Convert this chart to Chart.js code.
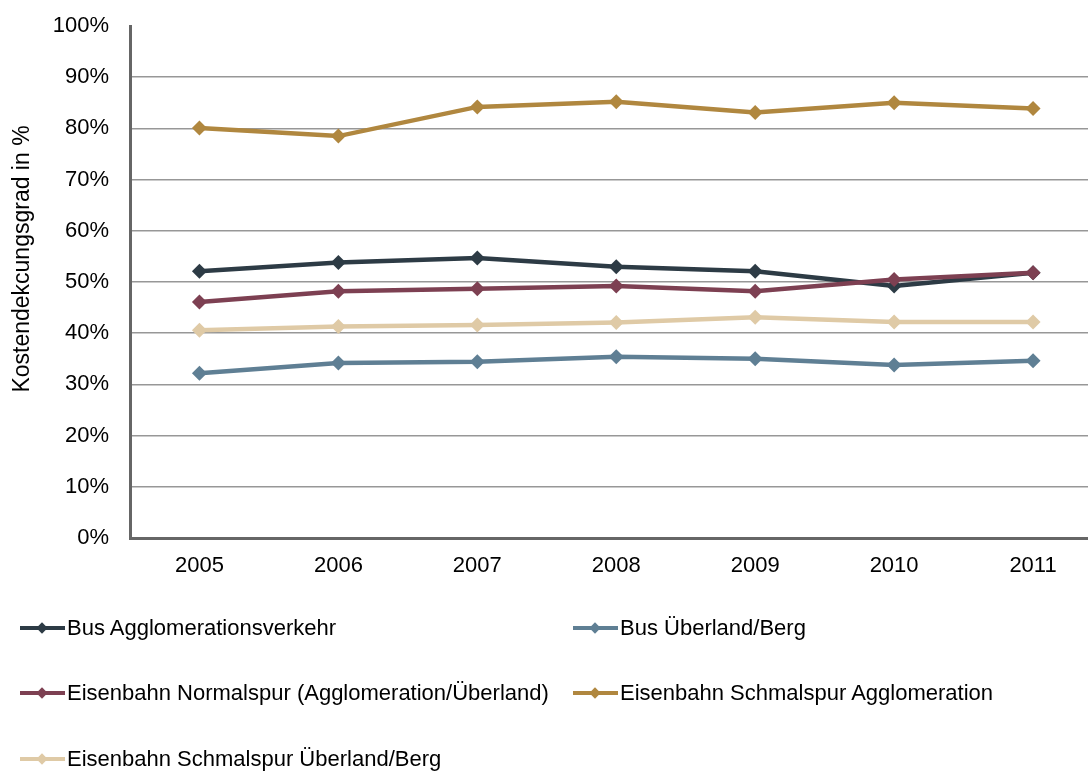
<!DOCTYPE html>
<html>
<head>
<meta charset="utf-8">
<script src="https://cdn.jsdelivr.net/npm/chart.js@4.4.1/dist/chart.umd.min.js"></script>
<style>
  html, body { margin: 0; padding: 0; background: #fff; overflow: hidden; }
  body { width: 1088px; height: 771px; position: relative; font-family: "Liberation Sans", Arial, sans-serif; }
  #wrap { position: absolute; left: 0; top: 0; width: 1110px; height: 600px; }
  #legend { position: absolute; left: 0; top: 0; width: 1088px; height: 771px; pointer-events: none; }
  .item { position: absolute; height: 24px; display: flex; align-items: center; font-size: 22px; color: #000; white-space: nowrap; }
  .sym { position: relative; width: 45px; height: 24px; margin-right: 2px; }
  .sym .ln { position: absolute; left: 0; right: 0; top: 10px; height: 4px; }
  .sym .dm { position: absolute; left: 18px; top: 8px; width: 8px; height: 8px; transform: rotate(45deg); }
</style>
</head>
<body>
<div id="wrap"><canvas id="chart1"></canvas></div>
<div id="legend"></div>
<script>
// Jahre und Kostendeckungsgrade (in %)
var years = ["2005", "2006", "2007", "2008", "2009", "2010", "2011"];
var busAgglo = [52.1, 53.8, 54.7, 53.0, 52.1, 49.2, 51.8];
var busBerg = [32.2, 34.2, 34.4, 35.4, 35.0, 33.8, 34.6];
var bahnNormal = [46.1, 48.2, 48.7, 49.2, 48.2, 50.5, 51.8];
var schmalAgglo = [80.1, 78.5, 84.2, 85.2, 83.1, 85.0, 83.9];
var schmalBerg = [40.6, 41.3, 41.6, 42.1, 43.1, 42.2, 42.2];

var seriesNames = [
    "Bus Agglomerationsverkehr",
    "Bus Überland/Berg",
    "Eisenbahn Normalspur (Agglomeration/Überland)",
    "Eisenbahn Schmalspur Agglomeration",
    "Eisenbahn Schmalspur Überland/Berg"
];
var seriesColors = ["#2d3b45", "#5f7f94", "#7d4052", "#b0873f", "#dfcaa6"];
var seriesData = [busAgglo, busBerg, bahnNormal, schmalAgglo, schmalBerg];
var axisTitle = "Kostendekcungsgrad in %";

var datasets = seriesNames.map(function (name, i) {
    return {
        label: name,
        data: seriesData[i],
        borderColor: seriesColors[i],
        backgroundColor: seriesColors[i],
        borderWidth: 4.5,
        pointStyle: "rectRot",
        pointRadius: 7.5,
        pointHoverRadius: 7.5,
        pointBorderWidth: 0,
        tension: 0,
        order: 5 - i
    };
});

var font = "'Liberation Sans', Arial, sans-serif";

// Achsentitel etwas oberhalb der Mitte, wie im Original
var titlePlugin = {
    id: "yTitle",
    afterDraw: function (chart) {
        var c = chart.ctx;
        c.save();
        c.translate(23, 259);
        c.rotate(-Math.PI / 2);
        c.fillStyle = "#000";
        c.font = "23px " + font;
        c.textAlign = "center";
        c.textBaseline = "middle";
        c.fillText(axisTitle, 0, 0);
        c.restore();
    }
};

var config = {
    type: "line",
    data: { labels: years, datasets: datasets },
    options: {
        responsive: true,
        maintainAspectRatio: false,
        animation: false,
        layout: { padding: { top: 26, left: 0, right: 0, bottom: 0 } },
        plugins: {
            legend: { display: false },
            tooltip: { enabled: false }
        },
        scales: {
            x: {
                offset: true,
                grid: { display: false, drawTicks: false },
                border: { display: true, color: "#666", width: 3 },
                ticks: { color: "#000", padding: 15, font: { family: font, size: 22 } },
                afterFit: function (scale) {
                    scale.height = 62;
                    scale.paddingLeft = 0;
                    scale.paddingRight = 0;
                }
            },
            y: {
                min: 0,
                max: 100,
                grid: {
                    color: function (ctx) { return ctx.tick && ctx.tick.value === 100 ? "rgba(0,0,0,0)" : "#979797"; },
                    lineWidth: 1.5,
                    drawTicks: false
                },
                border: { display: true, color: "#666", width: 3 },
                ticks: {
                    stepSize: 10,
                    color: "#000",
                    padding: 21,
                    font: { family: font, size: 22 },
                    callback: function (v) { return v + "%"; }
                },
                afterFit: function (scale) {
                    scale.width = 130;
                    scale.paddingTop = 0;
                    scale.paddingBottom = 0;
                }
            }
        }
    },
    plugins: [titlePlugin]
};

var ctxChart1 = document.getElementById("chart1").getContext("2d");
var chart1 = new Chart(ctxChart1, config);

// Legende in zwei Spalten
var legendPos = [[20, 628], [573, 628], [20, 693], [573, 693], [20, 759]];
var legendBox = document.getElementById("legend");
chart1.data.datasets.forEach(function (ds, i) {
    var item = document.createElement("div");
    item.className = "item";
    item.style.left = legendPos[i][0] + "px";
    item.style.top = (legendPos[i][1] - 12) + "px";
    item.innerHTML = '<span class="sym"><span class="ln" style="background:' + ds.borderColor +
        '"></span><span class="dm" style="background:' + ds.borderColor + '"></span></span>' +
        '<span>' + ds.label + '</span>';
    legendBox.appendChild(item);
});
</script>
</body>
</html>
